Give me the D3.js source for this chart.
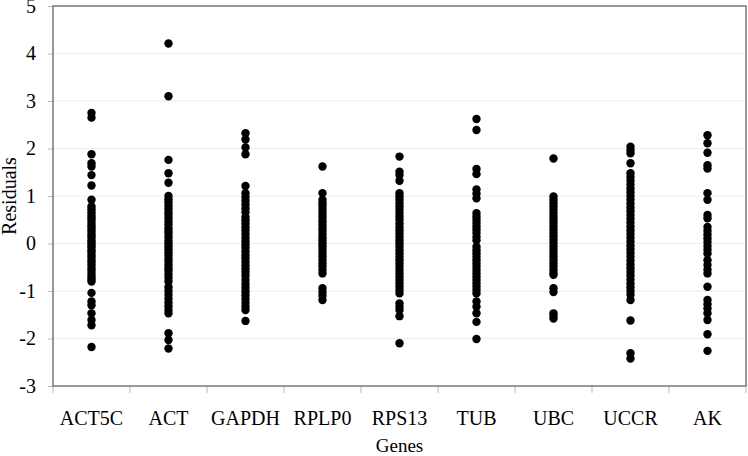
<!DOCTYPE html>
<html><head><meta charset="utf-8">
<script src="https://cdn.jsdelivr.net/npm/d3@7"></script>
<style>body{margin:0;background:#fff}svg{display:block}text{font-family:"Liberation Serif","Times New Roman",serif}</style>
</head><body><svg id="c" width="748" height="456"></svg>
<script>
const genes = ["ACT5C","ACT","GAPDH","RPLP0","RPS13","TUB","UBC","UCCR","AK"];
const yTicks = [-3,-2,-1,0,1,2,3,4,5];
const ACT5C = [2.75,2.65,1.88,1.69,1.62,1.44,1.22,0.92,0.78,0.72,0.66,0.6,0.55,0.5,0.44,0.38,0.33,0.28,0.22,0.17,0.12,0.06,0.02,-0.03,-0.08,-0.14,-0.19,-0.25,-0.3,-0.36,-0.41,-0.47,-0.53,-0.58,-0.64,-0.7,-0.75,-0.8,-1.04,-1.22,-1.3,-1.47,-1.61,-1.72,-2.18];
const ACT = [4.21,3.1,1.76,1.48,1.28,1.0,0.93,0.87,0.8,0.73,0.66,0.6,0.53,0.46,0.4,0.32,0.26,0.2,0.13,0.06,0.0,-0.06,-0.12,-0.19,-0.25,-0.32,-0.38,-0.45,-0.52,-0.58,-0.65,-0.72,-0.8,-0.92,-1.0,-1.08,-1.16,-1.24,-1.32,-1.4,-1.47,-1.89,-2.03,-2.21];
const GAPDH = [2.32,2.19,2.02,1.88,1.21,1.06,0.98,0.9,0.82,0.74,0.66,0.56,0.49,0.42,0.35,0.28,0.2,0.12,0.05,-0.02,-0.09,-0.17,-0.24,-0.31,-0.39,-0.46,-0.53,-0.6,-0.68,-0.77,-0.85,-0.93,-1.01,-1.09,-1.17,-1.25,-1.33,-1.4,-1.63];
const RPLP0 = [1.62,1.06,0.92,0.86,0.8,0.73,0.67,0.6,0.54,0.47,0.4,0.33,0.27,0.2,0.13,0.07,0.0,-0.06,-0.13,-0.2,-0.27,-0.34,-0.41,-0.48,-0.56,-0.63,-0.94,-1.02,-1.1,-1.19];
const RPS13 = [1.83,1.51,1.44,1.32,1.06,0.99,0.92,0.85,0.78,0.71,0.64,0.57,0.5,0.42,0.35,0.28,0.21,0.14,0.07,0.0,-0.07,-0.14,-0.21,-0.28,-0.35,-0.42,-0.49,-0.56,-0.63,-0.7,-0.77,-0.84,-0.91,-0.98,-1.05,-1.26,-1.33,-1.4,-1.53,-2.1];
const TUB = [2.62,2.39,1.57,1.46,1.14,1.05,0.95,0.64,0.57,0.5,0.43,0.36,0.29,0.22,0.14,0.07,-0.07,-0.14,-0.21,-0.28,-0.35,-0.42,-0.49,-0.56,-0.63,-0.7,-0.77,-0.84,-0.91,-0.98,-1.05,-1.22,-1.33,-1.47,-1.65,-2.01];
const UBC = [1.79,0.99,0.92,0.85,0.78,0.71,0.64,0.57,0.5,0.43,0.36,0.29,0.22,0.15,0.08,0.01,-0.06,-0.13,-0.2,-0.27,-0.34,-0.41,-0.48,-0.55,-0.62,-0.66,-0.94,-1.02,-1.47,-1.52,-1.58];
const UCCR = [2.04,1.97,1.9,1.69,1.48,1.4,1.32,1.24,1.16,1.08,1.0,0.92,0.84,0.76,0.68,0.6,0.52,0.44,0.36,0.28,0.2,0.12,0.04,-0.04,-0.12,-0.2,-0.28,-0.36,-0.44,-0.52,-0.6,-0.68,-0.76,-0.84,-0.92,-1.0,-1.08,-1.19,-1.62,-2.31,-2.42];
const AK = [2.28,2.11,1.91,1.65,1.58,1.06,0.92,0.6,0.53,0.35,0.27,0.19,0.11,0.03,-0.05,-0.13,-0.21,-0.35,-0.45,-0.55,-0.63,-0.91,-1.19,-1.28,-1.37,-1.47,-1.61,-1.91,-2.26];
const seriesList = [ACT5C,ACT,GAPDH,RPLP0,RPS13,TUB,UBC,UCCR,AK];

const svg = d3.select("#c");
const L=53, R=746, T=6, B=386;
const x = d3.scaleBand().domain(genes).range([L,R]).padding(0);
const y = d3.scaleLinear().domain([-3,5]).range([B,T]);

// gridlines
svg.append("g").selectAll("line").data(yTicks.filter(t=>t>-3&&t<5)).join("line")
  .attr("x1",L).attr("x2",R).attr("y1",d=>y(d)).attr("y2",d=>y(d))
  .attr("stroke","#ececec").attr("stroke-width",1);

// y axis
const ya = svg.append("g").attr("transform",`translate(${L},0)`)
  .call(d3.axisLeft(y).tickValues(yTicks).tickSize(5).tickPadding(12).tickFormat(d=>String(d)));
ya.select(".domain").remove();
ya.attr("font-family",null);
ya.selectAll(".tick line").attr("stroke","#bbb");
ya.selectAll(".tick text").style("font-size","20px").attr("fill","#000");

// x axis
const xa = svg.append("g").attr("transform",`translate(0,${B})`)
  .call(d3.axisBottom(x).tickSize(0).tickPadding(25));
xa.select(".domain").remove();
xa.attr("font-family",null);
xa.selectAll(".tick text").style("font-size","20px").attr("fill","#000");
svg.append("g").selectAll("line").data(genes.concat([null])).join("line")
  .attr("x1",(d,i)=>L+i*x.bandwidth()).attr("x2",(d,i)=>L+i*x.bandwidth())
  .attr("y1",B).attr("y2",B+7).attr("stroke","#bbb");

// frame
svg.append("rect").attr("x",L).attr("y",T).attr("width",R-L).attr("height",B-T)
  .attr("fill","none").attr("stroke","#777").attr("stroke-width",1.5);

// points
genes.forEach((g,i)=>{
  svg.append("g").selectAll("circle").data(seriesList[i]).join("circle")
    .attr("cx",x(g)+x.bandwidth()/2).attr("cy",d=>y(d)).attr("r",4.2).attr("fill","#000");
});

// axis titles
svg.append("text").attr("x",(L+R)/2).attr("y",452).attr("text-anchor","middle")
  .style("font-size","19px").text("Genes");
svg.append("text").attr("transform",`translate(16,${(T+B)/2}) rotate(-90)`).attr("text-anchor","middle")
  .style("font-size","20px").text("Residuals");
</script></body></html>
